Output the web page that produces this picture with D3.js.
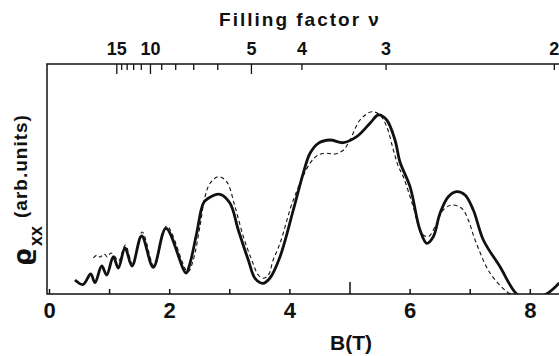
<!DOCTYPE html>
<html>
<head>
<meta charset="utf-8">
<script src="https://cdn.jsdelivr.net/npm/d3@7"></script>
<style>
  body { margin: 0; background: #fff; }
  svg { display: block; }
  text { font-family: "Liberation Sans", Arial, sans-serif; font-weight: bold; fill: #111; }
</style>
</head>
<body>
<svg id="chart" width="559" height="356"></svg>
<script>
// measured curves, B in tesla, rho_xx in arbitrary units
const solidB = [0.433, 0.566, 0.694, 0.765, 0.877, 0.96, 1.07, 1.153, 1.265, 1.381, 1.542, 1.735, 1.947,
  2.28, 2.346, 2.457, 2.567, 2.65, 2.845, 3.012, 3.15, 3.316, 3.428, 3.56, 3.677, 3.844, 4.065, 4.23,
  4.343, 4.48, 4.676, 4.897, 5.12, 5.341, 5.479, 5.619, 5.757, 5.84, 6.007, 6.173, 6.285, 6.394, 6.506,
  6.644, 6.784, 6.922, 7.06, 7.227, 7.504, 7.782, 8.0, 8.28, 8.49];
const solidRho = [1.4, 0.95, 2.0, 1.13, 2.8, 1.9, 3.73, 2.6, 4.6, 2.8, 5.8, 2.67, 6.57,
  2.1, 3.07, 6.07, 9.07, 9.57, 9.97, 9.07, 6.4, 3.4, 1.57, 1.07, 1.6, 3.73, 8.4, 12.07,
  14.07, 15.07, 15.4, 15.13, 15.73, 17.07, 17.9, 17.4, 15.4, 13.2, 10.73, 6.4, 5.07, 5.73, 8.07,
  9.73, 10.23, 9.9, 8.4, 5.4, 2.73, 0.0, -0.6, 0.0, 1.1];

const dashedB = [0.737, 0.80, 0.85, 0.92, 0.97, 1.03, 1.09, 1.16, 1.27, 1.39, 1.55, 1.75, 1.96,
  2.31, 2.4, 2.51, 2.595, 2.68, 2.817, 2.956, 3.095, 3.234, 3.373, 3.483, 3.566, 3.65, 3.73, 3.844,
  4.065, 4.343, 4.48, 4.62, 4.76, 4.9, 5.008, 5.175, 5.37, 5.507, 5.619, 5.73, 5.81, 5.895, 6.06,
  6.2, 6.311, 6.45, 6.56, 6.70, 6.867, 6.977, 7.09, 7.34, 7.616, 7.68];
const dashedRho = [3.6, 3.9, 3.7, 4.0, 3.7, 4.1, 3.8, 3.3, 4.9, 3.0, 6.2, 2.8, 6.8,
  2.2, 3.4, 6.7, 9.7, 11.07, 11.73, 11.23, 8.73, 5.73, 3.4, 1.9, 1.57, 1.9, 3.4, 5.07,
  9.4, 13.07, 13.9, 14.07, 14.0, 14.4, 15.4, 17.4, 18.23, 17.9, 16.73, 14.4, 12.8, 11.73, 8.73,
  6.07, 5.73, 7.07, 8.4, 8.9, 8.57, 7.4, 5.4, 2.07, 0.23, 0.0];

const bTicks = [0, 1, 2, 3, 4, 5, 6, 7, 8];
const bLabels = [0, 2, 4, 6, 8];
const nuTicks = [2, 3, 4, 5, 6, 7, 8, 9, 10, 11, 12, 13, 14, 15];
const nuLabels = [15, 10, 5, 4, 3, 2];
const nuLong = [5, 10, 15];
const nuB = 16.8; // B = nuB / nu

const plotLeft = 47, plotTop = 64, plotBottom = 294, plotRight = 559;

const svg = d3.select("#chart");

const x = d3.scaleLinear().domain([0, 8.5]).range([49, 49 + 8.5 * 60.1]);
const y = d3.scaleLinear().domain([0, 23]).range([plotBottom, plotTop]);

svg.append("defs").append("clipPath").attr("id", "plot")
  .append("rect")
  .attr("x", plotLeft).attr("y", plotTop)
  .attr("width", plotRight - plotLeft).attr("height", plotBottom - plotTop);

// bottom axis, ticks pointing inward
const xAxis = d3.axisBottom(x)
  .tickValues(bTicks)
  .tickSizeInner(-5)
  .tickSizeOuter(0)
  .tickPadding(8)
  .tickFormat(d => bLabels.includes(d) ? d : "");

const gx = svg.append("g").attr("transform", `translate(0,${plotBottom})`).call(xAxis);
gx.select(".domain").remove();
gx.selectAll(".tick line").attr("stroke", "#111").attr("stroke-width", 1.5)
  .attr("y2", d => d === 5 ? -12 : -5);
gx.selectAll(".tick text").style("font-size", "22px").attr("fill", "#111");

// top axis: filling factor
const nuAxis = d3.axisTop(x)
  .tickValues(nuTicks.map(n => nuB / n))
  .tickSizeInner(-6)
  .tickSizeOuter(0)
  .tickPadding(9)
  .tickFormat(b => {
    const n = Math.round(nuB / b);
    return nuLabels.includes(n) ? n : "";
  });

const gt = svg.append("g").attr("transform", `translate(0,${plotTop})`).call(nuAxis);
gt.select(".domain").remove();
gt.selectAll(".tick line").attr("stroke", "#111").attr("stroke-width", 1.3)
  .attr("y2", b => nuLong.includes(Math.round(nuB / b)) ? 10 : 6);
gt.selectAll(".tick text").style("font-size", "18px").attr("fill", "#111");

// frame lines
svg.append("path")
  .attr("d", `M${plotRight},${plotTop}H${plotLeft}V${plotBottom}H${plotRight}`)
  .attr("fill", "none").attr("stroke", "#111").attr("stroke-width", 1.5);

const line = d3.line()
  .x(d => x(d[0]))
  .y(d => y(d[1]))
  .curve(d3.curveCatmullRom.alpha(0.5));

const plot = svg.append("g").attr("clip-path", "url(#plot)");

plot.append("path")
  .datum(dashedB.map((b, i) => [b, dashedRho[i]]))
  .attr("d", line)
  .attr("fill", "none")
  .attr("stroke", "#111")
  .attr("stroke-width", 1.1)
  .attr("stroke-dasharray", "4,3");

plot.append("path")
  .datum(solidB.map((b, i) => [b, solidRho[i]]))
  .attr("d", line)
  .attr("fill", "none")
  .attr("stroke", "#111")
  .attr("stroke-width", 2.8)
  .attr("stroke-linejoin", "round");

// titles
svg.append("text")
  .attr("x", 300).attr("y", 26)
  .attr("text-anchor", "middle")
  .style("font-size", "19px")
  .style("letter-spacing", "2px")
  .text("Filling factor ν");

svg.append("text")
  .attr("x", 351).attr("y", 350)
  .attr("text-anchor", "middle")
  .style("font-size", "21px")
  .text("B(T)");

// y label: rho_xx (arb.units)
svg.append("text")
  .attr("transform", "translate(31,266) rotate(-90)")
  .style("font-family", "'DejaVu Sans', sans-serif")
  .style("font-size", "25px")
  .text("ϱ");
svg.append("text")
  .attr("transform", "translate(42,246) rotate(-90)")
  .style("font-size", "18px")
  .text("xx");
svg.append("text")
  .attr("transform", "translate(27,218) rotate(-90)")
  .style("font-size", "19px")
  .style("letter-spacing", "1px")
  .text("(arb.units)");
</script>
</body>
</html>
